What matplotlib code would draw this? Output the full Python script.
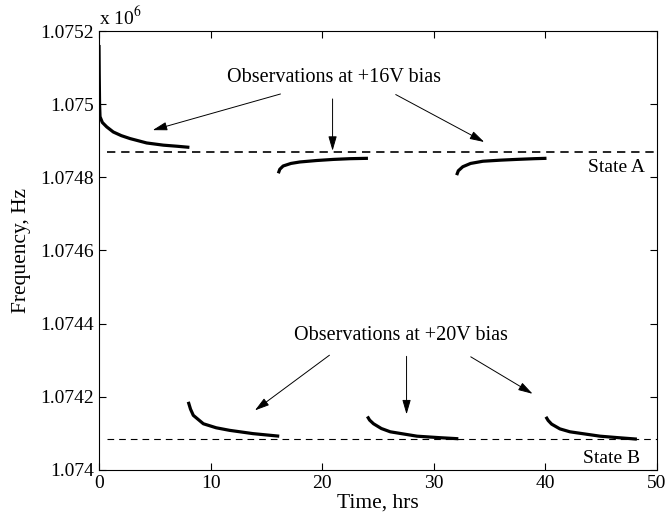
import matplotlib
matplotlib.use("Agg")
import matplotlib.pyplot as plt
from matplotlib.ticker import FuncFormatter

plt.rcParams['font.family'] = ['Liberation Serif', 'DejaVu Serif']
plt.rcParams['mathtext.fontset'] = 'stix'

# +16V observations (hrs, Hz)
t16_a = [0.0, 0.02, 0.05, 0.09, 0.3, 0.69, 1.28, 2.0, 2.78, 4.27, 5.76, 7.0, 8.1]
f16_a = [1.075162e6, 1.07508e6, 1.075000e6, 1.074966e6, 1.074950e6, 1.074938e6,
         1.074924e6, 1.074914e6, 1.074906e6, 1.074894e6, 1.074888e6, 1.074885e6, 1.074882e6]
t16_b = [16.07, 16.2, 16.5, 17.2, 18.0, 19.5, 21.0, 22.5, 24.1]
f16_b = [1.074811e6, 1.074822e6, 1.074831e6, 1.074838e6, 1.074842e6, 1.074846e6,
         1.074849e6, 1.074851e6, 1.074852e6]
t16_c = [32.05, 32.2, 32.6, 33.3, 34.4, 36.0, 37.4, 39.0, 40.1]
f16_c = [1.074806e6, 1.074818e6, 1.074829e6, 1.074838e6, 1.074844e6, 1.074847e6,
         1.074849e6, 1.074851e6, 1.074852e6]

# +20V observations
t20_a = [8.0, 8.2, 8.45, 9.35, 10.5, 11.7, 13.8, 16.15]
f20_a = [1.074186e6, 1.074166e6, 1.074149e6, 1.074126e6, 1.074115e6, 1.074108e6,
         1.074099e6, 1.074092e6]
t20_b = [24.05, 24.25, 24.6, 25.3, 26.1, 28.5, 30.5, 32.2]
f20_b = [1.074146e6, 1.074136e6, 1.074126e6, 1.074113e6, 1.074104e6, 1.074092e6,
         1.074088e6, 1.074085e6]
t20_c = [40.05, 40.25, 40.56, 41.3, 42.2, 44.9, 46.5, 48.2]
f20_c = [1.074145e6, 1.074135e6, 1.074125e6, 1.074112e6, 1.074104e6, 1.074092e6,
         1.074088e6, 1.074084e6]

state_a = 1.07487e6
state_b = 1.074083e6

yticks = [1.074e6, 1.0742e6, 1.0744e6, 1.0746e6, 1.0748e6, 1.075e6, 1.0752e6]
xticks = [0, 10, 20, 30, 40, 50]

fig = plt.figure(figsize=(6.69, 5.18), dpi=100)
ax = fig.add_axes([0.148, 0.093, 0.834, 0.847])

for t, f in [(t16_a, f16_a), (t16_b, f16_b), (t16_c, f16_c),
             (t20_a, f20_a), (t20_b, f20_b), (t20_c, f20_c)]:
    ax.plot(t, f, color='black', lw=2.3, solid_capstyle='butt')

ax.hlines(state_a, 0.7, 50, colors='black', linestyles=(0, (5, 3.5)), lw=1.2)
ax.hlines(state_b, 0.7, 50, colors='black', linestyles=(0, (6, 4.5)), lw=0.8)

ax.text(48.9, 1.074828e6, 'State A', ha='right', va='center', fontsize=14)
ax.text(48.5, 1.074031e6, 'State B', ha='right', va='center', fontsize=14)

arrow = dict(arrowstyle='-|>,head_length=0.55,head_width=0.16', color='black',
             lw=0.7, mutation_scale=16)
ax.text(21.1, 1.075074e6, 'Observations at +16V bias', ha='center', va='center', fontsize=14.5)
ax.annotate('', xy=(4.57, 1.074927e6), xytext=(16.5, 1.07503e6), arrowprops=arrow)
ax.annotate('', xy=(20.93, 1.074865e6), xytext=(20.93, 1.075022e6), arrowprops=arrow)
ax.annotate('', xy=(34.74, 1.074893e6), xytext=(26.37, 1.07503e6), arrowprops=arrow)

ax.text(27.06, 1.074367e6, 'Observations at +20V bias', ha='center', va='center', fontsize=14.5)
ax.annotate('', xy=(13.77, 1.074158e6), xytext=(20.85, 1.074318e6), arrowprops=arrow)
ax.annotate('', xy=(27.56, 1.074144e6), xytext=(27.56, 1.074318e6), arrowprops=arrow)
ax.annotate('', xy=(39.07, 1.074204e6), xytext=(33.1, 1.074313e6), arrowprops=arrow)

ax.set_xlim(0, 50)
ax.set_ylim(1.074e6, 1.0752e6)
ax.set_xticks(xticks)
ax.set_yticks(yticks)
ax.yaxis.set_major_formatter(FuncFormatter(lambda v, p: '%g' % (v / 1e6)))
ax.tick_params(direction='in', top=True, right=True, labelsize=14, length=5, width=0.8)
for s in ax.spines.values():
    s.set_linewidth(0.8)

ax.text(0.0, 1.005, r'x 10$^6$', transform=ax.transAxes, fontsize=14, ha='left', va='bottom')
ax.set_xlabel('Time, hrs', fontsize=15.5, labelpad=1)
ax.set_ylabel('Frequency, Hz', fontsize=15.5, labelpad=7)

fig.savefig('out.png', dpi=100)
